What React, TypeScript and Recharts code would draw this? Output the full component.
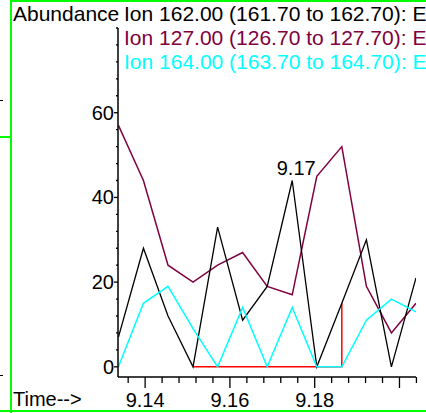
import { Line, LineChart, XAxis, YAxis } from 'recharts';

// retention times (min) of each scan
const times = [9.1337, 9.1396, 9.1454, 9.1513, 9.1571, 9.163, 9.1688, 9.1747, 9.1805, 9.1864, 9.1922, 9.1981, 9.2039];
const ion162 = [7, 28, 12, 0, 33, 11, 19, 44, 0, 15, 30, 0, 21];
const ion127 = [57, 44, 24, 20, 24, 27, 19, 17, 45, 52, 19, 8, 15];
const ion164 = [0, 15, 19, 9, 0, 14, 0, 14, 0, 0, 11, 16, 13];

// header is cut by the panel edge in the original, keep only what shows
const headerLines = [
  'Ion 162.00 (161.70 to 162.70): E',
  'Ion 127.00 (126.70 to 127.70): E',
  'Ion 164.00 (163.70 to 164.70): E',
];
const headerColors = ['#000000', '#800040', '#00ffff'];

const xTicks = [9.136, 9.14, 9.144, 9.148, 9.152, 9.156, 9.16, 9.164, 9.168, 9.172, 9.176, 9.18, 9.184, 9.188, 9.192, 9.196, 9.2, 9.204];
const xMajor = [9.14, 9.16, 9.18, 9.2];
const xLabels = ['9.14', '9.16', '9.18'];
const yTicks = [0, 4, 8, 12, 16, 20, 24, 28, 32, 36, 40, 44, 48, 52, 56, 60, 64, 68, 72, 76, 80];
const yLabels = [0, 20, 40, 60];

const peakIndex = 7;
const peakLabel = '9.17';
// integration baseline: from scan 3 to scan 9, closing at 15
const baseStart = 3;
const baseEnd = 9;
const baseTop = 15;

const data = times.map((t, i) => ({ t, ion162: ion162[i], ion127: ion127[i], ion164: ion164[i] }));
const baseline = [
  { t: times[baseStart], v: 0 },
  { t: times[baseEnd], v: 0 },
  { t: times[baseEnd], v: baseTop },
];

const FONT = '"Liberation Sans", Arial, sans-serif';

const XTick = (props: any) => {
  const { x, y, payload } = props;
  const v = payload.value;
  const major = xMajor.some(m => Math.abs(m - v) < 1e-6);
  const lbl = xLabels.find(l => Math.abs(parseFloat(l) - v) < 1e-6);
  return (
    <g>
      <line x1={x} x2={x} y1={y} y2={y + (major ? 11 : 6)} stroke="#000" strokeWidth={1.3} />
      {lbl && (
        <text x={x} y={y + 30} textAnchor="middle" fontSize={20} fontFamily={FONT} fill="#000">
          {lbl}
        </text>
      )}
    </g>
  );
};

const YTick = (props: any) => {
  const { x, y, payload } = props;
  const major = yLabels.includes(payload.value);
  return (
    <g>
      <line x1={x - (major ? 4 : 2)} x2={x} y1={y} y2={y} stroke="#000" strokeWidth={1.3} />
      {major && (
        <text x={x - 4} y={y + 7} textAnchor="end" fontSize={20} fontFamily={FONT} fill="#000">
          {payload.value}
        </text>
      )}
    </g>
  );
};

const PeakLabel = (props: any) => {
  const { x, y, index } = props;
  if (index !== peakIndex) return null;
  return (
    <text x={x + 4} y={y - 5} textAnchor="middle" fontSize={20} fontFamily={FONT} fill="#000">
      {peakLabel}
    </text>
  );
};

export default function App() {
  return (
    <div style={{ position: 'absolute', left: 0, top: 0, width: 426, height: 413, background: '#fff', overflow: 'hidden' }}>
      <LineChart width={426} height={413} data={data} margin={{ top: 28, right: 10, bottom: 0, left: 0 }}>
        <XAxis
          dataKey="t"
          type="number"
          domain={[9.1336, 9.2039]}
          ticks={xTicks}
          interval={0}
          allowDataOverflow
          height={36}
          tickLine={false}
          tickSize={0}
          tickMargin={0}
          tick={<XTick />}
          axisLine={{ stroke: '#000', strokeWidth: 1.5 }}
        />
        <YAxis
          type="number"
          domain={[-2.4, 80]}
          ticks={yTicks}
          interval={0}
          allowDataOverflow
          width={118}
          tickLine={false}
          tickSize={0}
          tickMargin={0}
          tick={<YTick />}
          axisLine={{ stroke: '#000', strokeWidth: 1.5 }}
        />
        <Line data={baseline} dataKey="v" stroke="#ff0000" strokeWidth={1.5} dot={false} isAnimationActive={false} />
        <Line dataKey="ion127" stroke="#800040" strokeWidth={1.5} dot={false} isAnimationActive={false} />
        <Line dataKey="ion162" stroke="#000000" strokeWidth={1.3} dot={false} isAnimationActive={false} label={<PeakLabel />} />
        <Line dataKey="ion164" stroke="#00ffff" strokeWidth={1.5} dot={false} isAnimationActive={false} />
      </LineChart>
      <svg width={426} height={413} style={{ position: 'absolute', left: 0, top: 0, pointerEvents: 'none' }}>
        <text x={13} y={21} fontSize={21} fontFamily={FONT} fill="#000">Abundance</text>
        {headerLines.map((s, i) => (
          <text key={s} x={124} y={21 + i * 24} fontSize={21} fontFamily={FONT} fill={headerColors[i]}>
            {s}
          </text>
        ))}
        <text x={13} y={406} fontSize={20} fontFamily={FONT} fill="#000">Time--&gt;</text>
      </svg>
      {/* frame and stray marks of neighbouring panels */}
      <div style={{ position: 'absolute', left: 10, top: 0, width: 2, height: 413, background: '#00ff00' }} />
      <div style={{ position: 'absolute', left: 10, top: 0, width: 416, height: 2, background: '#00ff00' }} />
      <div style={{ position: 'absolute', left: 0, top: 410, width: 426, height: 2, background: '#00ff00' }} />
      <div style={{ position: 'absolute', left: 0, top: 136, width: 10, height: 2, background: '#00ff00' }} />
      <div style={{ position: 'absolute', left: 0, top: 100, width: 3, height: 1, background: '#000' }} />
      <div style={{ position: 'absolute', left: 0, top: 375, width: 3, height: 1, background: '#000' }} />
    </div>
  );
}
